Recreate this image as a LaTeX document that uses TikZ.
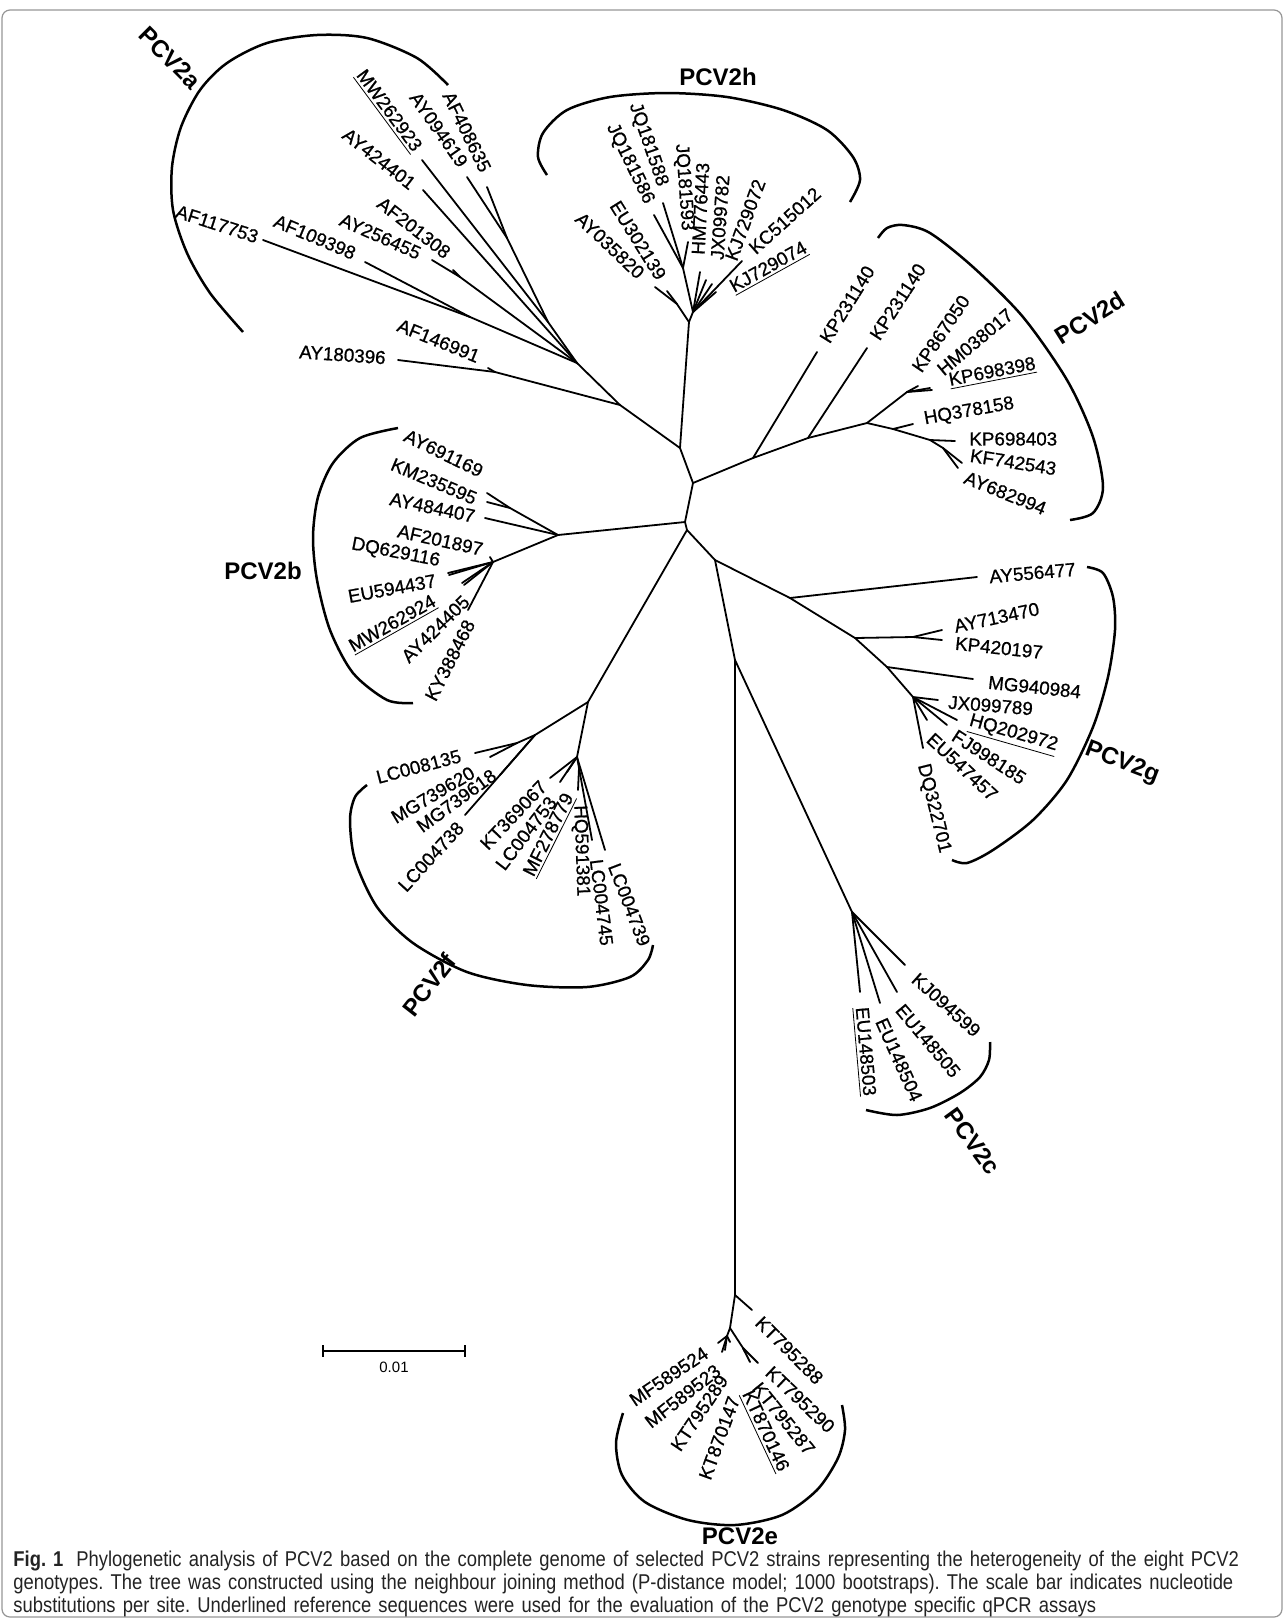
\documentclass[tikz,border=0pt]{standalone}
\usepackage{fontspec}
\setmainfont{Liberation Sans}
\newfontfamily\leaffont[FakeBold=0.8]{Liberation Sans}
\newfontfamily\capfont[FakeStretch=0.86]{Liberation Sans}
\usetikzlibrary{calc,positioning}
\definecolor{framegray}{RGB}{150,150,150}
\definecolor{capgray}{RGB}{35,35,35}

\tikzset{
  branch/.style={line width=0.9pt,line cap=round},
  bracket/.style={line width=1.25pt},
  leaf/.style={font=\leaffont\fontsize{9.4}{10}\selectfont,inner sep=1pt},
  clade/.style={font=\fontsize{12}{14}\selectfont\bfseries,inner sep=0pt},
}
% leaf: id, text, tip, parent, label point, angle, anchor
\newcommand{\tipleaf}[7]{%
  \coordinate (t-#1) at (#3);
  \draw[branch] (#4) -- (t-#1);
  \node[leaf,rotate=#6,anchor=#7] (l-#1) at (#5) {#2};}
\newcommand{\refseq}[1]{\underline{#1}}

\begin{document}
\begin{tikzpicture}[x=0.5pt,y=-0.5pt]
  \useasboundingbox (0,0) rectangle (1284,1619);
  \draw[framegray,line width=0.6pt,rounded corners=4pt] (2,10) rectangle (1282,1617);

  % backbone
  \coordinate (r1) at (680,448);
  \coordinate (r2) at (693,483);
  \coordinate (r3) at (685,522);
  \coordinate (r4) at (687,530);
  \coordinate (r5) at (715,560);
  \coordinate (r6) at (735,660);
  \draw[branch] (r1) -- (r2) -- (r3) -- (r4) -- (r5) -- (r6);

  % PCV2a
  \coordinate (a) at (577,363);
  \coordinate (a1) at (548,322);
  \coordinate (a2) at (507,238);
  \coordinate (a3) at (460,277);
  \coordinate (a4) at (470,317);
  \coordinate (a5) at (495,372);
  \coordinate (ja) at (620,405);
  \draw[branch] (a2) -- (a1) -- (a) -- (ja) -- (r1);
  \draw[branch] (a3) -- (a);
  \draw[branch] (a4) -- (a);
  \draw[branch] (a5) -- (ja);
  \tipleaf{AF408635}{AF408635}{487,187}{a2}{487,173}{-64}{east}
  \tipleaf{AY094619}{AY094619}{467,177}{a2}{465,167}{-55}{east}
  \tipleaf{MW262923}{\refseq{MW262923}}{422,160}{a1}{418,152}{-53.5}{east}
  \tipleaf{AY424401}{AY424401}{423,190}{a}{415,187}{-38}{east}
  \tipleaf{AF201308}{AF201308}{453,270}{a3}{450,256}{-38}{east}
  \tipleaf{AY256455}{AY256455}{432,260}{a3}{422,255}{-24}{east}
  \tipleaf{AF109398}{AF109398}{365,262}{a4}{357,255}{-23}{east}
  \tipleaf{AF117753}{AF117753}{263,240}{a4}{260,238}{-18}{east}
  \tipleaf{AF146991}{AF146991}{488,368}{a5}{481,358}{-22}{east}
  \tipleaf{AY180396}{AY180396}{398,360}{a5}{388,358}{-4}{east}
  \draw[bracket] plot[smooth] coordinates {(448,85) (417,58) (367,38) (317,35) (267,43) (227,63) (200,90) (181,127) (172,167) (173,210) (187,253) (210,293) (243,332)};
  \node[clade,rotate=-45] (cla) at (170,58) {PCV2a};

  % PCV2h
  \coordinate (h) at (689,322);
  \coordinate (h1) at (677,304);
  \coordinate (h2) at (693,312);
  \coordinate (h3) at (683,268);
  \draw[branch] (r1) -- (h);
  \draw[branch] (h1) -- (h);
  \draw[branch] (h3) -- (h2) -- (h);
  \tipleaf{AY035820}{AY035820}{655,287}{h1}{643,277}{-43.5}{east}
  \tipleaf{EU302139}{EU302139}{667,291}{h1}{663,280}{-58}{east}
  \tipleaf{JQ181586}{JQ181586}{654,215}{h3}{650,205}{-64}{east}
  \tipleaf{JQ181588}{JQ181588}{663,203}{h3}{663,188}{-71}{east}
  \tipleaf{JQ181593}{JQ181593}{688,242}{h3}{687,233}{-86}{east}
  \tipleaf{HM776443}{HM776443}{700,272}{h2}{698,257}{87}{west}
  \tipleaf{JX099782}{JX099782}{706,280}{h2}{717,262}{86}{west}
  \tipleaf{KJ729072}{KJ729072}{712,284}{h2}{730,262}{70}{west}
  \tipleaf{KJ729074}{\refseq{KJ729074}}{716,292}{h2}{730,290}{29}{west}
  \tipleaf{KC515012}{KC515012}{742,261}{h2}{750,252}{42}{west}
  \draw[bracket] plot[smooth] coordinates {(547,175) (538,157) (543,133) (567,110) (610,97) (667,93) (727,97) (783,110) (827,130) (853,157) (860,180) (850,202)};
  \node[clade] (clh) at (718,77) {PCV2h};

  % PCV2d
  \coordinate (d1) at (753,458);
  \coordinate (d2) at (808,438);
  \coordinate (d3) at (867,423);
  \coordinate (d4) at (907,392);
  \coordinate (dq) at (893,429);
  \coordinate (d6) at (930,440);
  \coordinate (d7) at (943,448);
  \draw[branch] (r2) -- (d1) -- (d2) -- (d3) -- (dq) -- (d6) -- (d7);
  \draw[branch] (d3) -- (d4);
  \tipleaf{KP231140a}{KP231140}{817,352}{d1}{823,343}{58}{west}
  \tipleaf{KP231140b}{KP231140}{867,348}{d2}{873,340}{57}{west}
  \tipleaf{KP867050}{KP867050}{918,386}{d4}{915,372}{56}{west}
  \tipleaf{HM038017}{HM038017}{930,388}{d4}{938,373}{40}{west}
  \tipleaf{KP698398}{\refseq{KP698398}}{932,390}{d4}{947,382}{11}{west}
  \tipleaf{HQ378158}{HQ378158}{913,424}{dq}{922,420}{10}{west}
  \tipleaf{KP698403}{KP698403}{955,441}{d6}{967,439}{0}{west}
  \tipleaf{KF742543}{KF742543}{962,463}{d7}{968,455}{-9}{west}
  \tipleaf{AY682994}{AY682994}{958,468}{d7}{963,476}{-22}{west}
  \draw[bracket] plot[smooth] coordinates {(878,238) (887,228) (903,225) (930,233) (973,267) (1023,317) (1067,380) (1093,437) (1103,487) (1093,513) (1070,520)};
  \node[clade,rotate=32] (cld) at (1090,318) {PCV2d};

  % PCV2b
  \coordinate (b) at (558,535);
  \coordinate (b1) at (510,508);
  \coordinate (b2) at (493,562);
  \draw[branch] (r3) -- (b);
  \draw[branch] (b1) -- (b) -- (b2);
  \tipleaf{AY691169}{AY691169}{487,493}{b1}{484,473}{-26}{east}
  \tipleaf{KM235595}{KM235595}{487,502}{b1}{478,500}{-23}{east}
  \tipleaf{AY484407}{AY484407}{485,518}{b}{477,517}{-12}{east}
  \tipleaf{AF201897}{AF201897}{490,557}{b2}{485,550}{-12.5}{east}
  \tipleaf{DQ629116}{DQ629116}{448,573}{b2}{442,562}{-11}{east}
  \tipleaf{EU594437}{EU594437}{449,575}{b2}{438,580}{10.5}{east}
  \tipleaf{MW262924}{\refseq{MW262924}}{462,583}{b2}{437,600}{29.5}{east}
  \tipleaf{AY424405}{AY424405}{464,585}{b2}{468,597}{44.5}{east}
  \tipleaf{KY388468}{KY388468}{468,610}{b2}{471,619}{63}{east}
  \draw[bracket] plot[smooth] coordinates {(398,428) (360,438) (333,463) (318,497) (313,537) (317,580) (330,630) (353,673) (387,700) (413,703)};
  \node[clade] (clb) at (263,571) {PCV2b};

  % PCV2f
  \coordinate (f) at (588,702);
  \coordinate (f1) at (535,735);
  \coordinate (f1a) at (517,743);
  \coordinate (f2) at (577,757);
  \coordinate (f3) at (579,768);
  \draw[branch] (r4) -- (f) -- (f1);
  \draw[branch] (f1a) -- (f1);
  \draw[branch] (f) -- (f2) -- (f3);
  \tipleaf{LC008135}{LC008135}{475,753}{f1a}{463,755}{14.7}{east}
  \tipleaf{MG739620}{MG739620}{490,757}{f1a}{475,770}{30.6}{east}
  \tipleaf{MG739618}{MG739618}{500,775}{f1}{496,772}{36}{east}
  \tipleaf{LC004738}{LC004738}{465,815}{f1}{462,823}{47.4}{east}
  \tipleaf{KT369067}{KT369067}{550,778}{f2}{545,782}{46.4}{east}
  \tipleaf{LC004753}{LC004753}{560,782}{f2}{554,797}{52.4}{east}
  \tipleaf{MF278779}{\refseq{MF278779}}{567,772}{f2}{571,793}{63.4}{east}
  \tipleaf{HQ591381}{HQ591381}{578,790}{f3}{579,803}{-88}{west}
  \tipleaf{LC004745}{LC004745}{592,840}{f3}{596,857}{-83}{west}
  \tipleaf{LC004739}{LC004739}{605,850}{f2}{613,862}{-69}{west}
  \draw[bracket] plot[smooth] coordinates {(367,785) (355,797) (350,820) (355,860) (377,907) (413,943) (467,972) (527,985) (587,987) (630,977) (648,960) (653,945)};
  \node[clade,rotate=52] (clf) at (429,985) {PCV2f};

  % PCV2g
  \coordinate (g1) at (790,598);
  \coordinate (g2) at (855,638);
  \coordinate (g2a) at (913,637);
  \coordinate (g3) at (887,667);
  \coordinate (g4) at (913,697);
  \draw[branch] (r5) -- (g1) -- (g2) -- (g3) -- (g4);
  \draw[branch] (g2) -- (g2a);
  \tipleaf{AY556477}{AY556477}{977,577}{g1}{987,577}{5}{west}
  \tipleaf{AY713470}{AY713470}{942,630}{g2a}{952,627}{12}{west}
  \tipleaf{KP420197}{KP420197}{942,640}{g2a}{953,643}{-6}{west}
  \tipleaf{MG940984}{MG940984}{973,679}{g3}{986,682}{-6}{west}
  \tipleaf{JX099789}{JX099789}{938,700}{g4}{946,702}{-4.5}{west}
  \tipleaf{HQ202972}{\refseq{HQ202972}}{957,720}{g4}{967,722}{-16}{west}
  \tipleaf{FJ998185}{FJ998185}{947,725}{g4}{952,733}{-33}{west}
  \tipleaf{EU547457}{EU547457}{927,720}{g4}{928,735}{-43}{west}
  \tipleaf{DQ322701}{DQ322701}{923,748}{g4}{922,762}{-76}{west}
  \draw[bracket] plot[smooth] coordinates {(1087,567) (1103,573) (1113,597) (1115,630) (1108,677) (1093,727) (1067,780) (1033,820) (993,850) (967,863) (952,860)};
  \node[clade,rotate=-21] (clg) at (1122,763) {PCV2g};

  % PCV2c
  \coordinate (c) at (852,912);
  \draw[branch] (r6) -- (c);
  \tipleaf{KJ094599}{KJ094599}{905,965}{c}{913,975}{-42}{west}
  \tipleaf{EU148505}{EU148505}{897,992}{c}{898,1005}{-50}{west}
  \tipleaf{EU148504}{EU148504}{880,1003}{c}{880,1017}{-66}{west}
  \tipleaf{EU148503}{\refseq{EU148503}}{860,992}{c}{860,1005}{-85}{west}
  \draw[bracket] plot[smooth] coordinates {(990,1042) (989,1060) (980,1077) (960,1093) (930,1108) (897,1115) (866,1110)};
  \node[clade,rotate=-54] (clc) at (973,1141) {PCV2c};

  % PCV2e
  \coordinate (e) at (735,1295);
  \coordinate (e1) at (730,1328);
  \coordinate (e2) at (727,1336);
  \coordinate (e3) at (743,1348);
  \draw[branch] (r6) -- (e) -- (e1) -- (e2);
  \draw[branch] (e1) -- (e3);
  \tipleaf{KT795288}{KT795288}{752,1310}{e}{757,1318}{-45}{west}
  \tipleaf{MF589524}{MF589524}{718,1343}{e2}{708,1350}{34}{east}
  \tipleaf{MF589523}{MF589523}{722,1352}{e2}{720,1367}{38}{east}
  \tipleaf{KT795289}{KT795289}{725,1350}{e2}{725,1375}{56}{east}
  \tipleaf{KT870147}{KT870147}{730,1342}{e2}{735,1395}{70}{east}
  \tipleaf{KT870146}{\refseq{KT870146}}{745,1352}{e3}{745,1390}{-65}{west}
  \tipleaf{KT795287}{KT795287}{750,1362}{e3}{755,1383}{-51}{west}
  \tipleaf{KT795290}{KT795290}{758,1363}{e3}{767,1368}{-43.5}{west}
  \draw[bracket] plot[smooth] coordinates {(623,1413) (616,1443) (622,1475) (645,1502) (688,1520) (735,1525) (782,1515) (817,1490) (838,1458) (845,1430) (842,1405)};
  \node[clade] (cle) at (740,1536) {PCV2e};

  % scale bar
  \coordinate (sb1) at (323,1351);
  \coordinate (sb2) at (465,1351);
  \draw[line width=1pt] (sb1) -- (sb2);
  \draw[line width=1pt] ([yshift=3pt]sb1) -- ([yshift=-3pt]sb1);
  \draw[line width=1pt] ([yshift=3pt]sb2) -- ([yshift=-3pt]sb2);
  \node[font=\fontsize{7.5}{9}\selectfont,below=2pt of $(sb1)!0.5!(sb2)$] (sblab) {0.01};

  % caption
  \node[anchor=north west,align=left,inner sep=0pt,text=capgray,text width=660pt,
        font=\capfont\fontsize{10.7}{11.3}\selectfont\frenchspacing] (caption) at (13,1551)
    {\textbf{Fig. 1}\hspace{0.6em}Phylogenetic analysis of PCV2 based on the complete genome of selected PCV2 strains representing the heterogeneity of the eight PCV2\\
     genotypes. The tree was constructed using the neighbour joining method (P-distance model; 1000 bootstraps). The scale bar indicates nucleotide\\
     substitutions per site. Underlined reference sequences were used for the evaluation of the PCV2 genotype specific qPCR assays};
\end{tikzpicture}
\end{document}
